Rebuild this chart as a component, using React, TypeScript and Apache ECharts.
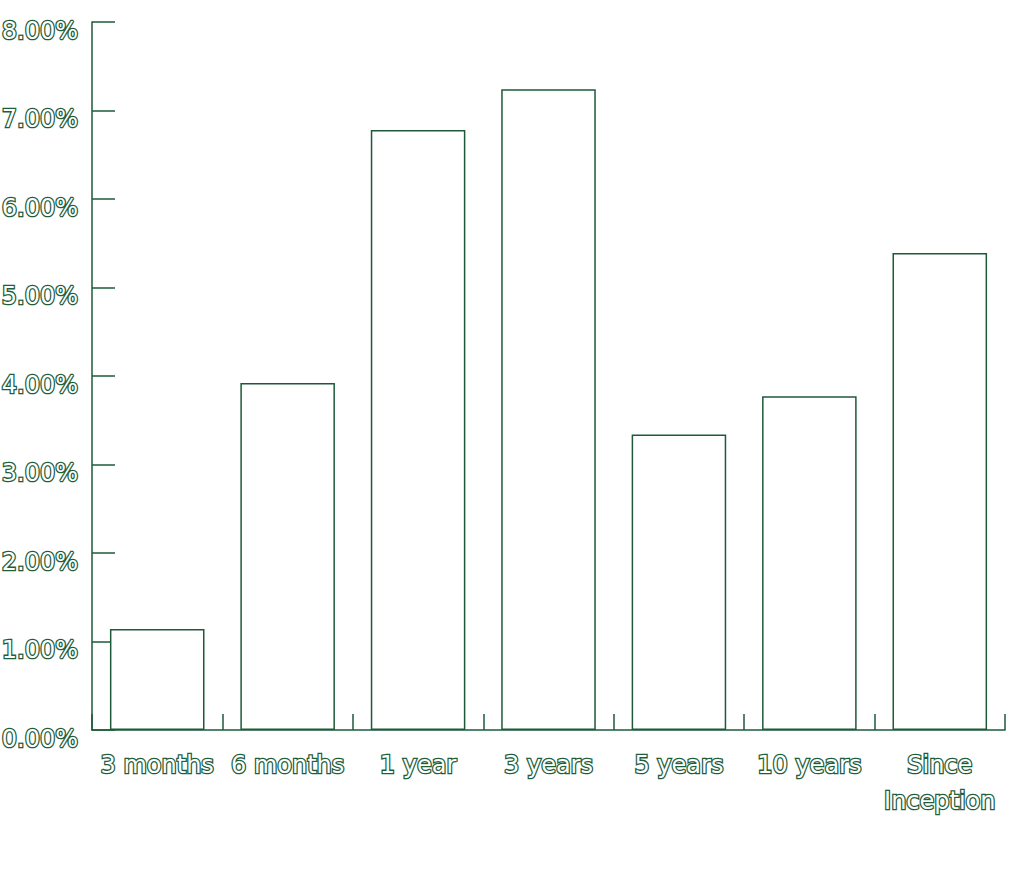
import React, { useEffect, useRef } from "react";
import * as echarts from "echarts";

const categories = ["3 months", "6 months", "1 year", "3 years", "5 years", "10 years", "Since\nInception"];
const returns = [1.14, 3.92, 6.78, 7.24, 3.34, 3.77, 5.39];

const lineColor = "#1e5a3a";
const textStroke = "#1f5e3b";

export default function App() {
  const ref = useRef<HTMLDivElement>(null);
  useEffect(() => {
    const chart = echarts.init(ref.current!, null, { renderer: "svg" });
    const labelStyle = {
      color: "#ffffff",
      textBorderColor: textStroke,
      textBorderWidth: 2.6,
      fontFamily: "DejaVu Sans",
      fontSize: 24,
    };
    chart.setOption({
      animation: false,
      backgroundColor: "#ffffff",
      grid: { left: 92, right: 19, top: 22, bottom: 144, containLabel: false, outerBoundsMode: "none" },
      xAxis: {
        type: "category",
        data: categories,
        axisLine: { show: true, lineStyle: { color: lineColor, width: 1.5 } },
        axisTick: { show: true, inside: true, length: 16, alignWithLabel: false, lineStyle: { color: lineColor, width: 1.5 } },
        axisLabel: { ...labelStyle, margin: 17, lineHeight: 36, interval: 0 },
        splitLine: { show: false },
      },
      yAxis: {
        type: "value",
        min: 0,
        max: 8,
        interval: 1,
        axisLine: { show: true, lineStyle: { color: lineColor, width: 1.5 } },
        axisTick: { show: true, inside: true, length: 23, lineStyle: { color: lineColor, width: 1.5 } },
        axisLabel: {
          ...labelStyle,
          margin: 14,
          verticalAlign: "top",
          lineHeight: 17,
          formatter: (v: number) => v.toFixed(2) + "%",
        },
        splitLine: { show: false },
      },
      series: [
        {
          type: "bar",
          data: returns,
          barWidth: "72.5%",
          itemStyle: { color: "#ffffff", borderColor: lineColor, borderWidth: 1.5 },
        },
      ],
    });
    return () => chart.dispose();
  }, []);
  return <div ref={ref} style={{ position: "fixed", left: 0, top: 0, width: 1024, height: 874 }} />;
}
